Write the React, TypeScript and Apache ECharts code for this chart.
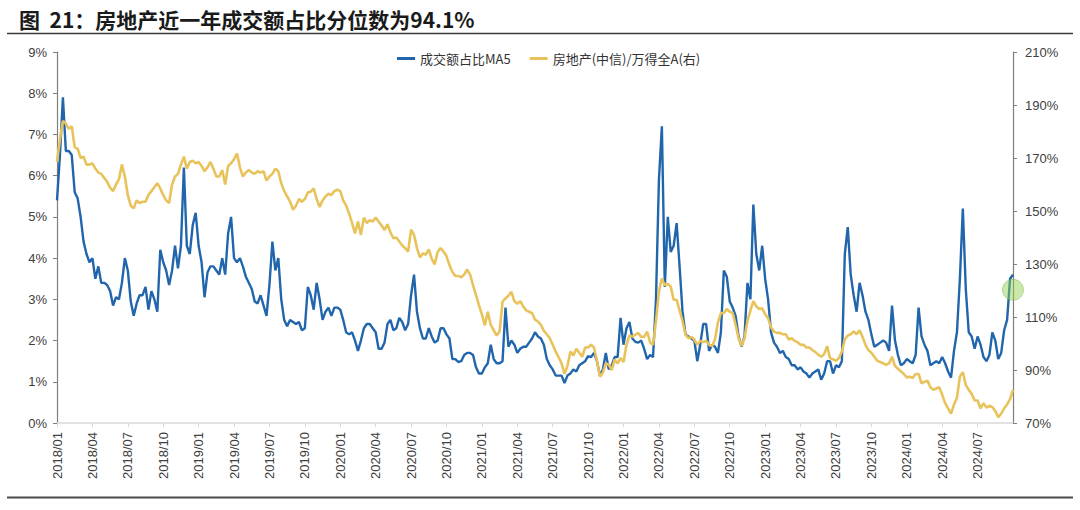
import React, { useEffect, useRef } from 'react';
import * as echarts from 'echarts';

// Quarter tick labels on the category axis
const quarterLabels = [
  '2018/01', '2018/04', '2018/07', '2018/10',
  '2019/01', '2019/04', '2019/07', '2019/10',
  '2020/01', '2020/04', '2020/07', '2020/10',
  '2021/01', '2021/04', '2021/07', '2021/10',
  '2022/01', '2022/04', '2022/07', '2022/10',
  '2023/01', '2023/04', '2023/07', '2023/10',
  '2024/01', '2024/04', '2024/07',
];
const pointsPerQuarter = 12; // ~weekly readings

// 成交额占比MA5 (%), left axis — one row per quarter
const turnoverShareMA5 = [
  5.4, 6.5, 7.9, 6.6, 6.6, 6.5, 5.6, 5.45, 5.0, 4.4, 4.1, 3.9,
  4.0, 3.5, 3.8, 3.4, 3.4, 3.35, 3.2, 2.85, 3.05, 3.0, 3.4, 4.0,
  3.7, 2.95, 2.6, 2.9, 3.1, 3.1, 3.3, 2.75, 3.2, 3.0, 2.7, 4.2,
  3.9, 3.7, 3.35, 3.7, 4.3, 3.75, 4.3, 6.2, 4.3, 4.1, 4.8, 5.1,
  4.3, 3.9, 3.05, 3.65, 3.8, 3.8, 3.7, 3.6, 4.0, 3.6, 4.6, 5.0,
  4.0, 3.9, 4.0, 3.8, 3.55, 3.4, 3.25, 2.95, 2.9, 3.1, 2.85, 2.6,
  3.35, 4.4, 3.7, 4.0, 3.0, 2.5, 2.35, 2.5, 2.45, 2.4, 2.45, 2.25,
  2.3, 3.3, 3.1, 2.75, 3.4, 3.0, 2.5, 2.7, 2.8, 2.6, 2.8, 2.8,
  2.75, 2.5, 2.2, 2.15, 2.2, 2.0, 1.75, 2.0, 2.3, 2.4, 2.4, 2.3,
  2.2, 1.8, 1.8, 1.95, 2.4, 2.5, 2.25, 2.3, 2.55, 2.45, 2.25, 2.4,
  3.1, 3.6, 2.7, 2.3, 2.05, 2.05, 2.3, 2.1, 1.95, 2.0, 2.3, 2.3,
  2.15, 2.05, 1.55, 1.55, 1.48, 1.5, 1.65, 1.7, 1.7, 1.65, 1.35, 1.2,
  1.2, 1.35, 1.45, 1.9, 1.55, 1.45, 1.45, 1.5, 2.8, 1.85, 2.0, 1.9,
  1.7, 1.8, 1.85, 1.85, 1.95, 2.05, 2.2, 2.1, 2.05, 1.9, 1.55, 1.4,
  1.3, 1.15, 1.15, 1.15, 0.97, 1.15, 1.2, 1.3, 1.25, 1.4, 1.45, 1.5,
  1.62, 1.6, 1.7, 1.5, 1.15, 1.3, 1.7, 1.3, 1.4, 1.6, 1.6, 2.55,
  1.9, 2.3, 2.45, 2.05, 1.97, 1.95, 2.0, 1.8, 1.55, 1.65, 1.6, 3.0,
  5.9, 7.2, 3.3, 5.0, 4.15, 4.3, 4.85, 3.8, 2.7, 2.15, 2.1, 2.05,
  2.0, 1.5, 1.9, 2.4, 2.4, 1.75, 1.9, 1.85, 1.7, 2.2, 3.7, 3.55,
  2.95, 2.8, 2.6, 2.1, 1.85, 2.1, 3.4, 3.0, 5.3, 4.1, 3.7, 4.3,
  3.5, 3.0, 2.2, 1.95, 1.85, 1.7, 1.75, 1.6, 1.55, 1.4, 1.4, 1.3,
  1.35, 1.25, 1.2, 1.1, 1.2, 1.25, 1.3, 1.05, 1.2, 1.5, 1.5, 1.2,
  1.4, 1.35, 1.5, 4.1, 4.75, 3.6, 3.1, 2.7, 3.4, 3.1, 2.7, 2.5,
  2.15, 1.85, 1.9, 1.95, 2.0, 1.95, 1.75, 2.85, 2.0, 1.65, 1.4, 1.45,
  1.55, 1.5, 1.45, 1.65, 2.8, 2.1, 1.9, 1.75, 1.4, 1.45, 1.5, 1.45,
  1.6, 1.45, 1.25, 1.1, 1.75, 2.2, 3.5, 5.2, 3.25, 2.2, 2.1, 1.8,
  2.1, 1.9, 1.6, 1.5, 1.65, 2.2, 2.0, 1.55, 1.7, 2.25, 2.5, 3.5, 3.6,
];

// 房地产(中信)/万得全A (%), right axis — one row per quarter
const realEstateVsWindA = [
  168.6, 177, 184, 183, 181, 182, 174, 173.5, 170, 170.5, 167.5, 167.5,
  168, 166, 164.5, 164, 162.5, 161, 158.8, 157.5, 160, 162, 167.5, 163,
  156, 152, 151, 154, 153, 153.5, 153.5, 156, 157.5, 159, 160.5, 158.5,
  156, 154, 153, 160, 163, 164, 167.5, 170.5, 166, 168.5, 169, 168,
  168.5, 167, 165, 166.5, 168.5, 166, 163, 163, 165.5, 160, 167, 168,
  169.5, 171.7, 166.5, 163, 164.5, 165.5, 164.5, 164, 165, 164.5, 165, 161.5,
  163, 164, 166, 165, 160.5, 157.5, 155.5, 153.5, 150.5, 152, 154.5, 153.5,
  154.5, 157, 157.3, 158.5, 154.5, 151.5, 154, 155.5, 156.5, 156, 157.5, 158,
  157.5, 154, 152, 149, 145.5, 141.5, 146, 141, 147.5, 145.5, 146.5, 146,
  147.5, 146, 144.5, 142.8, 145, 142, 139.7, 140, 138.5, 137, 136, 134.7,
  143, 141, 136, 132.5, 134, 133.5, 135.5, 132, 129.8, 134.5, 136, 134.7,
  133, 129.6, 127, 125.5, 125.5, 125, 126, 128, 126, 122, 118.3, 114.5,
  111, 106.8, 112, 107, 105, 103, 104.5, 115.8, 117, 118, 119.5, 116,
  115, 116, 114, 112.5, 112, 111.5, 109, 108.3, 107, 104.8, 103.5, 102,
  99.5, 97, 94.8, 92.5, 88.5, 91.5, 97, 95.5, 98, 96.5, 95, 98.5,
  98.5, 99.5, 98.5, 93.5, 87.5, 89, 92.5, 92, 90, 94, 92.5, 94.5,
  93, 99.5, 103, 102.6, 103.3, 104, 102.5, 102.5, 104.5, 100.5, 99.5, 108.5,
  119.6, 124.5, 122, 122.5, 121.5, 116.5, 116.5, 112.5, 108.5, 103.3, 102, 102.5,
  101.5, 99.5, 101, 100.5, 101, 99.5, 99, 101.5, 108, 111.5, 111.5, 113,
  112, 111.5, 107, 102, 99, 102, 108.5, 112.5, 116, 114, 113, 113.3,
  111, 109.5, 106, 104.5, 104, 104, 103.5, 103.5, 101.5, 102, 101, 100.5,
  99.5, 99.5, 98.5, 98.5, 97.5, 96.8, 95.8, 95, 96, 99, 94.5, 94,
  93.5, 94.5, 97, 101.5, 103, 103.5, 104.5, 103.5, 105, 102.5, 99.5, 97.5,
  96.5, 95, 93.5, 93, 92.5, 92, 92.5, 95, 91.5, 90.5, 89.5, 88.5,
  87.2, 87.5, 87, 88.5, 88.5, 85, 85.5, 86, 83.5, 82.5, 83, 83.5,
  80.7, 77.5, 75.5, 73.5, 77, 79.5, 87.5, 89.2, 84.4, 82.5, 81, 78.5,
  78.5, 75.5, 77.5, 75.8, 76.5, 76, 74.5, 72.2, 73.5, 75.5, 77, 79, 82.5,
];

// Highlighted latest percentile marker (left axis, %)
const latestMarkerValue = 3.23;

const seriesNames = ['成交额占比MA5', '房地产(中信)/万得全A(右)'];
const titleText = '图\u00A0\u00A021：房地产近一年成交额占比分位数为94.1%';

export default function App() {
  const ref = useRef<HTMLDivElement>(null);

  useEffect(() => {
    if (!ref.current) return;
    const chart = echarts.init(ref.current, null, { renderer: 'svg' });

    const categories = turnoverShareMA5.map((_, i) => {
      const q = Math.floor(i / pointsPerQuarter);
      return i % pointsPerQuarter === 0 && q < quarterLabels.length ? quarterLabels[q] : `p${i}`;
    });
    const isQuarter = (_i: number, v: string) => !String(v).startsWith('p');
    const lastIndex = turnoverShareMA5.length - 1;

    const axisGrey = '#7f7f7f';
    const labelColor = '#404040';
    const latin = "'Liberation Sans', Arial, sans-serif";
    const cjk = "'Noto Sans CJK SC', 'Liberation Sans', sans-serif";

    chart.setOption({
      animation: false,
      backgroundColor: '#ffffff',
      textStyle: { fontFamily: latin },
      title: {
        text: titleText,
        left: 19,
        top: 8,
        padding: 0,
        textStyle: { fontSize: 21, fontWeight: 'bold', color: '#1a1a1a', fontFamily: cjk },
      },
      legend: {
        data: seriesNames,
        left: 397,
        top: 52,
        padding: 0,
        icon: 'rect',
        itemWidth: 18,
        itemHeight: 3,
        itemGap: 19,
        textStyle: { fontSize: 13, color: '#333333', fontFamily: cjk },
      },
      grid: { left: 57, right: 67, top: 52, bottom: 87 },
      xAxis: {
        type: 'category',
        data: categories,
        boundaryGap: false,
        axisLine: { lineStyle: { color: '#d9d9d9', width: 1.5 } },
        axisTick: { interval: isQuarter, length: 4, lineStyle: { color: '#d9d9d9' } },
        axisLabel: {
          interval: isQuarter,
          rotate: 90,
          margin: 9,
          fontSize: 13,
          color: labelColor,
          fontFamily: latin,
        },
        splitLine: { show: false },
      },
      yAxis: [
        {
          type: 'value',
          min: 0,
          max: 9,
          interval: 1,
          position: 'left',
          axisLine: { show: true, lineStyle: { color: axisGrey, width: 1.2 } },
          axisTick: { show: true, length: 4, lineStyle: { color: axisGrey } },
          axisLabel: { formatter: '{value}%', fontSize: 13, color: labelColor, margin: 10, fontFamily: latin },
          splitLine: { show: false },
        },
        {
          type: 'value',
          min: 70,
          max: 210,
          interval: 20,
          position: 'right',
          axisLine: { show: true, lineStyle: { color: axisGrey, width: 1.2 } },
          axisTick: { show: true, length: 4, lineStyle: { color: axisGrey } },
          axisLabel: { formatter: '{value}%', fontSize: 13, color: labelColor, margin: 12, fontFamily: latin },
          splitLine: { show: false },
        },
      ],
      series: [
        {
          name: seriesNames[0],
          type: 'line',
          yAxisIndex: 0,
          data: turnoverShareMA5,
          showSymbol: false,
          symbol: 'none',
          color: '#2166ac',
          lineStyle: { width: 2.4, color: '#2166ac' },
          z: 2,
        },
        {
          name: seriesNames[1],
          type: 'line',
          yAxisIndex: 1,
          data: realEstateVsWindA,
          showSymbol: false,
          symbol: 'none',
          color: '#e8c35c',
          lineStyle: { width: 2.6, color: '#e8c35c' },
          z: 3,
        },
        {
          name: 'latest',
          type: 'scatter',
          yAxisIndex: 0,
          data: [[lastIndex, latestMarkerValue]],
          symbolSize: 21,
          itemStyle: {
            color: 'rgba(146, 208, 80, 0.6)',
            borderColor: 'rgba(112, 173, 71, 0.55)',
            borderWidth: 1,
          },
          z: 5,
        },
      ],
      graphic: [
        {
          type: 'line',
          shape: { x1: 7, y1: 33.5, x2: 1073, y2: 33.5 },
          style: { stroke: '#3a3a3a', lineWidth: 1.5 },
        },
        {
          type: 'line',
          shape: { x1: 7, y1: 497.5, x2: 1073, y2: 497.5 },
          style: { stroke: '#4a4a4a', lineWidth: 2 },
        },
      ],
    });

    return () => chart.dispose();
  }, []);

  return (
    <div
      ref={ref}
      style={{ position: 'fixed', left: 0, top: 0, width: 1080, height: 510, background: '#ffffff' }}
    />
  );
}
